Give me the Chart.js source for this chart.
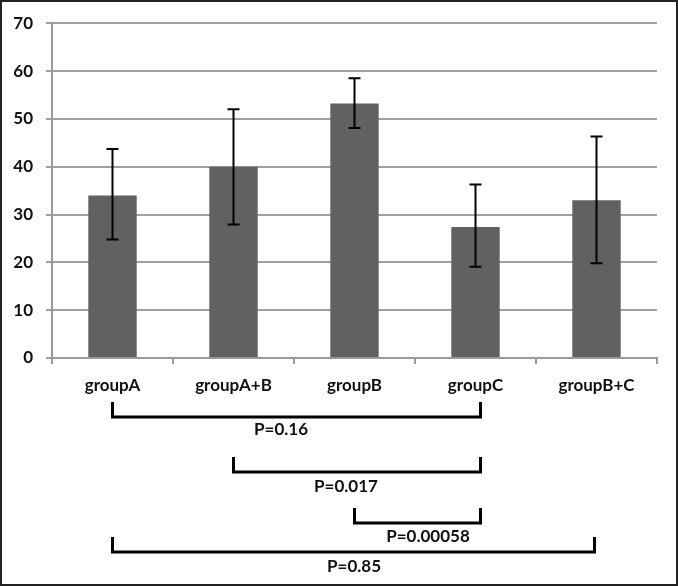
<!DOCTYPE html>
<html>
<head>
<meta charset="utf-8">
<script src="https://cdn.jsdelivr.net/npm/chart.js@4"></script>
<style>
  body { margin: 0; background: #fff; }
  #wrap { width: 678px; height: 586px; }
</style>
</head>
<body>
<div id="wrap"><canvas id="chart" width="678" height="586"></canvas></div>
<script>
'use strict';

// data
let groups = ['groupA', 'groupA+B', 'groupB', 'groupC', 'groupB+C'];
let means = [34, 40, 53.2, 27.4, 33];
let errLow = [24.8, 27.9, 48.1, 19.1, 19.8];
let errHigh = [43.7, 52, 58.5, 36.3, 46.3];
let yTicks = [0, 10, 20, 30, 40, 50, 60, 70];

// comparison brackets: [from group, to group, label]
let pFrom = [0, 1, 2, 0];
let pTo = [3, 3, 3, 4];
let pLabels = ['P=0.16', 'P=0.017', 'P=0.00058', 'P=0.85'];

let fontName = 'Lato, "Open Sans", sans-serif';

// error bars with caps
let errorBars = {
  id: 'errorBars',
  afterDatasetsDraw(chart) {
    let ctx = chart.ctx;
    let x = chart.scales.x;
    let y = chart.scales.y;
    ctx.save();
    ctx.strokeStyle = '#000';
    ctx.lineWidth = 2;
    for (let i = 0; i < groups.length; i++) {
      let px = x.getPixelForValue(i);
      let top = y.getPixelForValue(errHigh[i]);
      let bot = y.getPixelForValue(errLow[i]);
      ctx.beginPath();
      ctx.moveTo(px, top);
      ctx.lineTo(px, bot);
      ctx.moveTo(px - 6, top);
      ctx.lineTo(px + 6, top);
      ctx.moveTo(px - 6, bot);
      ctx.lineTo(px + 6, bot);
      ctx.stroke();
    }
    ctx.restore();
  }
};

// p-value brackets below the axis, plus the frame
let brackets = {
  id: 'brackets',
  afterDraw(chart) {
    let ctx = chart.ctx;
    let x = chart.scales.x;
    let lineY = [417, 472, 523, 552];
    let labelY = [430, 487, 537, 567];
    let labelX = [281, 346, 428, 354];
    ctx.save();
    ctx.strokeStyle = '#000';
    ctx.lineWidth = 3;
    for (let i = 0; i < pLabels.length; i++) {
      let x1 = x.getPixelForValue(pFrom[i]);
      let x2 = x.getPixelForValue(pTo[i]) + (pTo[i] === 3 ? 5 : -2);
      ctx.beginPath();
      ctx.moveTo(x1, lineY[i] - 15);
      ctx.lineTo(x1, lineY[i]);
      ctx.lineTo(x2, lineY[i]);
      ctx.lineTo(x2, lineY[i] - 15);
      ctx.stroke();
    }
    ctx.fillStyle = '#111';
    ctx.font = 'bold 17px ' + fontName;
    ctx.textAlign = 'center';
    ctx.textBaseline = 'middle';
    for (let i = 0; i < pLabels.length; i++) {
      ctx.fillText(pLabels[i], labelX[i], labelY[i]);
    }
    ctx.lineWidth = 2;
    ctx.strokeStyle = '#222';
    ctx.strokeRect(1, 1, chart.width - 2, chart.height - 2);
    ctx.restore();
  }
};

let ctx = document.getElementById('chart').getContext('2d');
let myChart = new Chart(ctx, {
  type: 'bar',
  data: {
    labels: groups,
    datasets: [{
      data: means,
      backgroundColor: '#616161',
      borderWidth: 0,
      barPercentage: 0.4,
      categoryPercentage: 1
    }]
  },
  options: {
    responsive: false,
    animation: false,
    layout: { padding: { top: 23, right: 21, left: 0, bottom: 0 } },
    plugins: {
      legend: { display: false },
      tooltip: { enabled: false }
    },
    scales: {
      x: {
        afterFit(scale) { scale.height = 228; },
        grid: { drawOnChartArea: false, color: '#999', lineWidth: 2, tickLength: 6 },
        border: { color: '#999', width: 2 },
        ticks: { color: '#111', font: { family: fontName, size: 17, weight: 'bold' }, padding: 11, maxRotation: 0 }
      },
      y: {
        min: 0,
        max: 70,
        afterFit(scale) { scale.width = 52; },
        afterBuildTicks(scale) { scale.ticks = yTicks.map(v => ({ value: v })); },
        grid: { color: '#a0a0a0', lineWidth: 2, tickLength: 6 },
        border: { color: '#999', width: 2 },
        ticks: { color: '#111', font: { family: fontName, size: 17, weight: 'bold' }, padding: 13 }
      }
    }
  },
  plugins: [errorBars, brackets]
});
</script>
</body>
</html>
